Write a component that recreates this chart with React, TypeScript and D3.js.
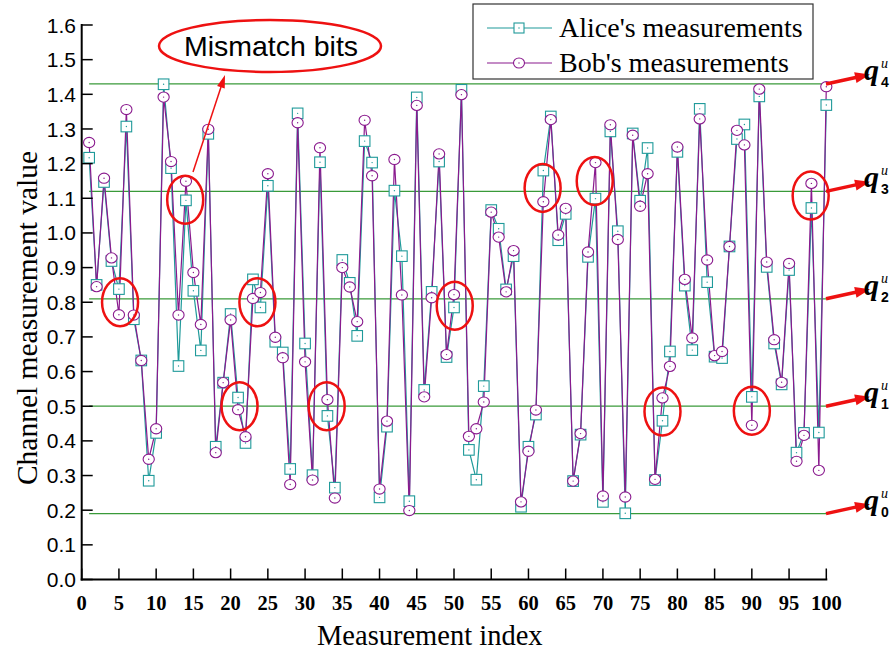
import React from "react";
import * as d3 from "d3";

const alice: number[] = [
  1.217, 0.85, 1.147, 0.919, 0.838, 1.307, 0.751, 0.632, 0.285, 0.423,
  1.429, 1.187, 0.616, 1.094, 0.833, 0.661, 1.286, 0.383, 0.568, 0.766,
  0.525, 0.394, 0.866, 0.785, 1.136, 0.686, 0.655, 0.319, 1.345, 0.681,
  0.301, 1.204, 0.472, 0.265, 0.922, 0.856, 0.703, 1.265, 1.203, 0.237,
  0.441, 1.122, 0.933, 0.226, 1.391, 0.547, 0.83, 1.206, 0.642, 0.785,
  1.413, 0.374, 0.288, 0.558, 1.066, 1.012, 0.837, 0.933, 0.21, 0.383,
  0.476, 1.18, 1.336, 0.979, 1.055, 0.284, 0.418, 0.931, 1.099, 0.224,
  1.293, 1.005, 0.191, 1.287, 1.093, 1.245, 0.287, 0.458, 0.658, 1.234,
  0.848, 0.662, 1.358, 0.858, 0.643, 0.639, 0.961, 1.271, 1.313, 0.527,
  1.394, 0.902, 0.681, 0.563, 0.893, 0.366, 0.423, 1.072, 0.424, 1.369,
];

const bob: number[] = [
  1.261, 0.845, 1.158, 0.928, 0.764, 1.356, 0.763, 0.632, 0.347, 0.435,
  1.392, 1.206, 0.763, 1.149, 0.886, 0.736, 1.299, 0.366, 0.568, 0.749,
  0.49, 0.412, 0.811, 0.828, 1.171, 0.699, 0.64, 0.274, 1.318, 0.628,
  0.287, 1.246, 0.519, 0.235, 0.9, 0.844, 0.744, 1.325, 1.165, 0.261,
  0.457, 1.212, 0.821, 0.199, 1.368, 0.527, 0.813, 1.228, 0.649, 0.822,
  1.399, 0.413, 0.435, 0.512, 1.06, 0.988, 0.83, 0.949, 0.224, 0.37,
  0.489, 1.09, 1.327, 0.994, 1.071, 0.284, 0.421, 0.945, 1.203, 0.241,
  1.312, 0.981, 0.238, 1.282, 1.077, 1.171, 0.289, 0.524, 0.615, 1.248,
  0.866, 0.697, 1.329, 0.922, 0.646, 0.658, 0.961, 1.296, 1.254, 0.445,
  1.415, 0.916, 0.692, 0.569, 0.912, 0.341, 0.416, 1.143, 0.315, 1.422,
];

const quantLevels: number[] = [0.19, 0.5, 0.81, 1.12, 1.43];
const quantNames: string[] = ["0", "1", "2", "3", "4"];

// mismatch highlight ellipses: [index, value]
const mismatchX: number[] = [5.15, 13.9, 21.2, 23.6, 32.9, 50.1, 61.9, 68.9, 78, 90, 97.9];
const mismatchY: number[] = [0.8, 1.096, 0.5, 0.8, 0.5, 0.79, 1.13, 1.15, 0.485, 0.487, 1.108];

const xTicks: number[] = d3.range(0, 101, 5);
const yTicks: number[] = d3.range(0, 17).map((d) => d / 10);

const W = 890;
const H = 652;
const SERIF = "'Liberation Serif', 'Times New Roman', serif";
const SANS = "'Liberation Sans', Arial, sans-serif";
const TEAL = "#1f9a9a";
const PURPLE = "#8a1a8e";
const GREEN = "#3a9a3a";
const RED = "#ee1111";

export default function App() {
  const x = d3.scaleLinear().domain([0, 100]).range([81.7, 826.3]);
  const y = d3.scaleLinear().domain([0, 1.6]).range([579.5, 25]);
  const idx = d3.range(1, 101);

  const line = d3
    .line<number>()
    .x((_, i) => x(i + 1))
    .y((d) => y(d));

  const arrowHead = (x1: number, y1: number, x2: number, y2: number, len: number, wid: number) => {
    const a = Math.atan2(y2 - y1, x2 - x1);
    const bx = x2 - len * Math.cos(a);
    const by = y2 - len * Math.sin(a);
    const px = (wid / 2) * Math.sin(a);
    const py = (wid / 2) * -Math.cos(a);
    return `M${x2},${y2}L${bx + px},${by + py}L${bx - px},${by - py}Z`;
  };

  return (
    <svg
      width={W}
      height={H}
      style={{ position: "absolute", left: 0, top: 0, background: "#fff" }}
    >
      {/* quantization lines */}
      {quantLevels.map((q, i) => (
        <line
          key={"q" + i}
          x1={x(1)}
          x2={x(100)}
          y1={y(q)}
          y2={y(q)}
          stroke={GREEN}
          strokeWidth={1.2}
        />
      ))}

      {/* series lines */}
      <path d={line(alice) || ""} fill="none" stroke={TEAL} strokeWidth={1.2} />
      <path d={line(bob) || ""} fill="none" stroke={PURPLE} strokeWidth={1.2} />

      {/* Alice markers */}
      {alice.map((v, i) => (
        <g key={"a" + i}>
          <rect
            x={x(idx[i]) - 5.3}
            y={y(v) - 5.3}
            width={10.6}
            height={10.6}
            fill="#fff"
            stroke={TEAL}
            strokeWidth={1.1}
          />
          <circle cx={x(idx[i])} cy={y(v)} r={0.7} fill={TEAL} />
        </g>
      ))}
      {/* Bob markers */}
      {bob.map((v, i) => (
        <g key={"b" + i}>
          <ellipse
            cx={x(idx[i])}
            cy={y(v)}
            rx={5.6}
            ry={5.1}
            fill="#fff"
            stroke={PURPLE}
            strokeWidth={1.1}
          />
          <circle cx={x(idx[i])} cy={y(v)} r={0.7} fill={PURPLE} />
        </g>
      ))}

      {/* axes */}
      <line x1={x(0)} x2={x(0)} y1={y(1.6) - 1} y2={y(0) + 1} stroke="#000" strokeWidth={2} />
      <line x1={x(0) - 1} x2={x(100) + 1} y1={y(0)} y2={y(0)} stroke="#000" strokeWidth={2} />
      {yTicks.map((t) => (
        <g key={"yt" + t}>
          <line x1={x(0)} x2={x(0) + 11} y1={y(t)} y2={y(t)} stroke="#000" strokeWidth={1.5} />
          <text
            x={76}
            y={y(t)}
            dy="0.36em"
            textAnchor="end"
            fontFamily={SANS}
            fontSize={21}
            fill="#000"
          >
            {t.toFixed(1)}
          </text>
        </g>
      ))}
      {xTicks.map((t) => (
        <g key={"xt" + t}>
          <line x1={x(t)} x2={x(t)} y1={y(0)} y2={y(0) - 11} stroke="#000" strokeWidth={1.5} />
          <text
            x={x(t)}
            y={610}
            textAnchor="middle"
            fontFamily={SERIF}
            fontWeight="bold"
            fontSize={20.5}
            fill="#000"
          >
            {t}
          </text>
        </g>
      ))}

      {/* axis titles */}
      <text x={317} y={645} fontFamily={SERIF} fontSize={28.5} fill="#000">
        Measurement index
      </text>
      <text
        transform={`translate(37,318) rotate(-90)`}
        textAnchor="middle"
        fontFamily={SERIF}
        fontSize={29.5}
        fill="#000"
      >
        Channel measurement value
      </text>

      {/* mismatch ellipses */}
      {mismatchX.map((mx, i) => (
        <ellipse
          key={"m" + i}
          cx={x(mx)}
          cy={y(mismatchY[i])}
          rx={18}
          ry={24}
          fill="none"
          stroke={RED}
          strokeWidth={2.5}
        />
      ))}

      {/* Mismatch bits callout */}
      <ellipse cx={270} cy={46} rx={111} ry={26} fill="#fff" stroke={RED} strokeWidth={2.5} />
      <text x={271} y={56} textAnchor="middle" fontFamily={SANS} fontSize={28.5} fill="#000">
        Mismatch bits
      </text>
      <line x1={193} y1={172} x2={221} y2={87} stroke={RED} strokeWidth={1.5} />
      <path d={arrowHead(193, 172, 225, 75, 13, 8)} fill={RED} />

      {/* legend */}
      <rect x={473} y={4} width={340} height={75} fill="#fff" stroke="#333" strokeWidth={1.2} />
      <line x1={487} x2={552} y1={28} y2={28} stroke={TEAL} strokeWidth={1.2} />
      <rect x={514} y={23} width={10} height={10} fill="#fff" stroke={TEAL} strokeWidth={1.1} />
      <circle cx={519} cy={28} r={0.7} fill={TEAL} />
      <text x={559} y={37} fontFamily={SERIF} fontSize={28} fill="#000">
        Alice's measurements
      </text>
      <line x1={487} x2={552} y1={63} y2={63} stroke={PURPLE} strokeWidth={1.2} />
      <ellipse cx={519} cy={63} rx={5.5} ry={5} fill="#fff" stroke={PURPLE} strokeWidth={1.1} />
      <circle cx={519} cy={63} r={0.7} fill={PURPLE} />
      <text x={559} y={72} fontFamily={SERIF} fontSize={28} fill="#000">
        Bob's measurements
      </text>

      {/* quantization labels with arrows */}
      {quantLevels.map((q, i) => {
        const y0 = y(q);
        return (
          <g key={"ql" + i}>
            <line x1={826} y1={y0} x2={858} y2={y0 - 7} stroke={RED} strokeWidth={3.5} />
            <path d={arrowHead(826, y0, 870, y0 - 9.5, 15, 11)} fill={RED} />
            <text
              x={864}
              y={y0 - 4}
              fontFamily={SERIF}
              fontStyle="italic"
              fontWeight="bold"
              fontSize={30}
              fill="#000"
            >
              q
            </text>
            <text x={881} y={y0 - 16} fontFamily={SERIF} fontStyle="italic" fontSize={14} fill="#000">
              u
            </text>
            <text x={881} y={y0 + 3} fontFamily={SANS} fontWeight="bold" fontSize={14} fill="#000">
              {quantNames[i]}
            </text>
          </g>
        );
      })}
    </svg>
  );
}
